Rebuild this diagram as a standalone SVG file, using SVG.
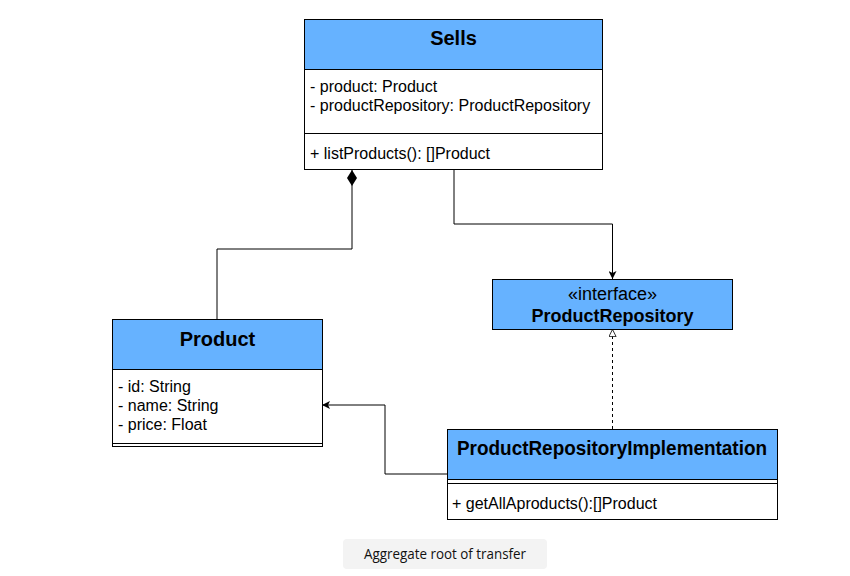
<svg xmlns="http://www.w3.org/2000/svg" width="850" height="576" viewBox="0 0 850 576">
<style>
.box{fill:#ffffff;stroke:#000000;stroke-width:1}
.head{fill:#66b2ff;stroke:#000000;stroke-width:1}
.ln{stroke:#000000;stroke-width:1;fill:none}
.t{font-family:"Liberation Sans",Arial,sans-serif;font-size:16px;fill:#000000}
.b{font-family:"Liberation Sans",Arial,sans-serif;font-size:20px;font-weight:bold;fill:#000000}
.c{font-family:"Liberation Sans",Arial,sans-serif;font-size:18px;fill:#000000}
.cap{font-family:"Open Sans","Noto Sans",sans-serif;font-size:14px;fill:#111111}
</style>
<defs>
<marker id="arr" viewBox="0 0 10 10" refX="10" refY="5" markerWidth="8" markerHeight="8" markerUnits="userSpaceOnUse" orient="auto">
<path d="M0,0 L10,5 L0,10 L2.5,5 Z" fill="#000000"/>
</marker>
<marker id="tri" viewBox="0 0 10 10" refX="10" refY="5" markerWidth="8" markerHeight="8" markerUnits="userSpaceOnUse" orient="auto">
<path d="M0.5,0.5 L9.5,5 L0.5,9.5 Z" fill="#ffffff" stroke="#000000" stroke-width="1"/>
</marker>
<marker id="dia" viewBox="0 0 16 10" refX="16" refY="5" markerWidth="16" markerHeight="10" markerUnits="userSpaceOnUse" orient="auto">
<path d="M0,5 L8,0 L16,5 L8,10 Z" fill="#000000"/>
</marker>
</defs>

<g id="connectors">
<path class="ln" d="M217,319 V249 H352 V170" marker-end="url(#dia)"/>
<path class="ln" d="M454,170 V224 H612.5 V279" marker-end="url(#arr)"/>
<path class="ln" d="M612.5,429 V329" stroke-dasharray="3,3" marker-end="url(#tri)"/>
<path class="ln" d="M447,474 H385 V405 H322" marker-end="url(#arr)"/>
</g>

<g id="sells">
<rect class="box" x="304.5" y="19.5" width="298" height="150"/>
<rect class="head" x="304.5" y="19.5" width="298" height="50"/>
<line class="ln" x1="304.5" y1="133.5" x2="602.5" y2="133.5"/>
<text class="b" x="453.5" y="45" text-anchor="middle">Sells</text>
<text class="t" x="310" y="91.5">- product: Product</text>
<text class="t" x="310" y="110.5">- productRepository: ProductRepository</text>
<text class="t" x="310" y="158.5">+ listProducts(): []Product</text>
</g>

<g id="product">
<rect class="box" x="112.5" y="319.5" width="210" height="127"/>
<rect class="head" x="112.5" y="319.5" width="210" height="50"/>
<line class="ln" x1="112.5" y1="443.5" x2="322.5" y2="443.5"/>
<text class="b" x="217.5" y="345.5" text-anchor="middle">Product</text>
<text class="t" x="118" y="391.5">- id: String</text>
<text class="t" x="118" y="410.5">- name: String</text>
<text class="t" x="118" y="429.5">- price: Float</text>
</g>

<g id="productRepository">
<rect class="head" x="492.5" y="279.5" width="240" height="50"/>
<text class="c" x="612.5" y="299.5" text-anchor="middle">«interface»</text>
<text class="c" x="612.5" y="321.5" text-anchor="middle" font-weight="bold">ProductRepository</text>
</g>

<g id="productRepositoryImplementation">
<rect class="box" x="447.5" y="429.5" width="330" height="90"/>
<rect class="head" x="447.5" y="429.5" width="330" height="50"/>
<line class="ln" x1="447.5" y1="483.5" x2="777.5" y2="483.5"/>
<text class="b" x="612" y="454.5" text-anchor="middle" font-size="19" textLength="310" lengthAdjust="spacingAndGlyphs">ProductRepositoryImplementation</text>
<text class="t" x="452" y="508.5">+ getAllAproducts():[]Product</text>
</g>

<g id="caption">
<rect x="343" y="539" width="204" height="30" rx="4" fill="#f3f3f3"/>
<text class="cap" x="445" y="558.5" text-anchor="middle" textLength="162" lengthAdjust="spacingAndGlyphs">Aggregate root of transfer</text>
</g>
</svg>
